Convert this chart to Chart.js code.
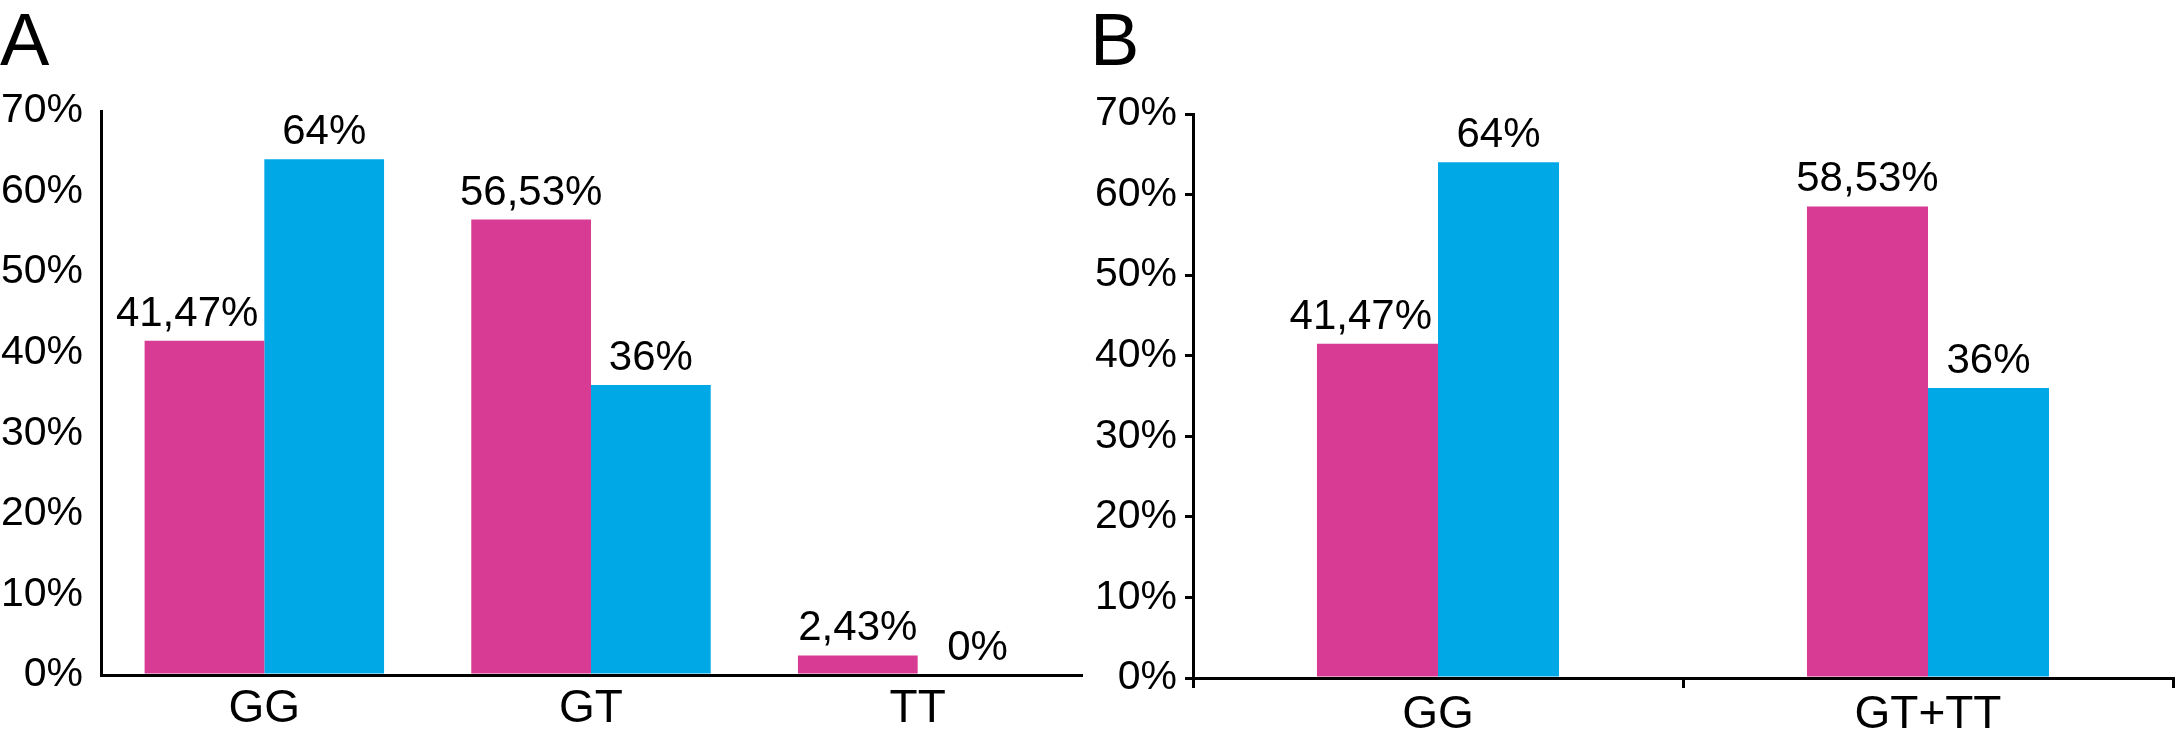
<!DOCTYPE html>
<html>
<head>
<meta charset="utf-8">
<script src="https://cdn.jsdelivr.net/npm/chart.js@4/dist/chart.umd.min.js"></script>
<style>
  html, body { margin: 0; padding: 0; background: #fff; }
  #wrap { position: relative; width: 2179px; height: 734px; }
  .panel { position: absolute; top: 0; height: 734px; }
</style>
</head>
<body>
<div id="wrap">
  <div class="panel" style="left:0;width:1090px"><canvas id="chartA"></canvas></div>
  <div class="panel" style="left:1090px;width:1089px"><canvas id="chartB"></canvas></div>
</div>
<script>
// Panel A: genotypes
const categoriesA = ['GG', 'GT', 'TT'];
const pinkA = [41.47, 56.53, 2.43];
const blueA = [64, 36, 0];

// Panel B: GG vs GT+TT
const categoriesB = ['GG', 'GT+TT'];
const pinkB = [41.47, 58.53];
const blueB = [64, 36];

const PINK = '#d83b93';
const BLUE = '#00a9e6';
const FONT = '"Liberation Sans", Arial, Helvetica, sans-serif';

// 41.47 -> "41,47%"
const fmt = v => String(v).replace('.', ',') + '%';

// value labels above each bar
const barLabels = {
  id: 'barLabels',
  afterDatasetsDraw(chart) {
    const ctx = chart.ctx;
    ctx.save();
    ctx.font = '42px ' + FONT;
    ctx.fillStyle = '#000';
    ctx.textAlign = 'center';
    ctx.textBaseline = 'alphabetic';
    const sets = chart.data.datasets;
    sets.forEach((ds, i) => {
      chart.getDatasetMeta(i).data.forEach((bar, j) => {
        const txt = fmt(ds.data[j]);
        let x = bar.x;
        // keep the label clear of a taller bar just to its right
        const next = sets[i + 1];
        if (next && next.data[j] > ds.data[j]) {
          const w = ctx.measureText(txt).width;
          x = Math.min(x, bar.x + bar.width / 2 - w / 2 - 6);
        }
        ctx.fillText(txt, x, bar.y - 15);
      });
    });
    ctx.restore();
  }
};

function makeChart(id, letter, labels, pink, blue, opts) {
  const ctx = document.getElementById(id).getContext('2d');
  return new Chart(ctx, {
    type: 'bar',
    data: {
      labels: labels,
      datasets: [
        { data: pink, backgroundColor: PINK, borderWidth: 0 },
        { data: blue, backgroundColor: BLUE, borderWidth: 0 }
      ]
    },
    options: {
      responsive: true,
      maintainAspectRatio: false,
      devicePixelRatio: 1,
      animation: false,
      categoryPercentage: opts.catPct,
      barPercentage: 1,
      layout: { padding: { left: 0, right: opts.padRight, top: 0, bottom: 0 } },
      plugins: {
        legend: { display: false },
        tooltip: { enabled: false },
        title: {
          display: true,
          text: letter,
          align: 'start',
          color: '#000',
          font: { family: FONT, size: 74, weight: 'normal', lineHeight: 1 },
          padding: { top: 8, bottom: opts.titleGap }
        }
      },
      scales: {
        x: {
          border: { display: true, color: '#000', width: 3 },
          grid: {
            drawOnChartArea: false,
            drawTicks: opts.xTicks,
            tickLength: 10,
            color: '#000',
            lineWidth: 3
          },
          ticks: {
            color: '#000',
            padding: opts.xPad,
            font: { family: FONT, size: 46 }
          },
          afterFit: s => { s.height = opts.xHeight; }
        },
        y: {
          min: 0,
          max: 70,
          border: { display: true, color: '#000', width: 3 },
          grid: {
            drawOnChartArea: false,
            drawTicks: opts.yTicks,
            tickLength: 8,
            color: '#000',
            lineWidth: 3
          },
          ticks: {
            stepSize: 10,
            color: '#000',
            padding: opts.yPad,
            font: { family: FONT, size: 41 },
            callback: v => v + '%'
          },
          afterFit: s => { s.width = opts.yWidth; }
        }
      }
    },
    plugins: [barLabels]
  });
}

makeChart('chartA', 'A', categoriesA, pinkA, blueA, {
  catPct: 0.733, padRight: 9, titleGap: 29, xHeight: 59, xPad: 7,
  xTicks: false, yTicks: false, yPad: 18, yWidth: 101
});

makeChart('chartB', 'B', categoriesB, pinkB, blueB, {
  catPct: 0.494, padRight: 6, titleGap: 32, xHeight: 56, xPad: 0,
  xTicks: true, yTicks: true, yPad: 8, yWidth: 103
});
</script>
</body>
</html>
